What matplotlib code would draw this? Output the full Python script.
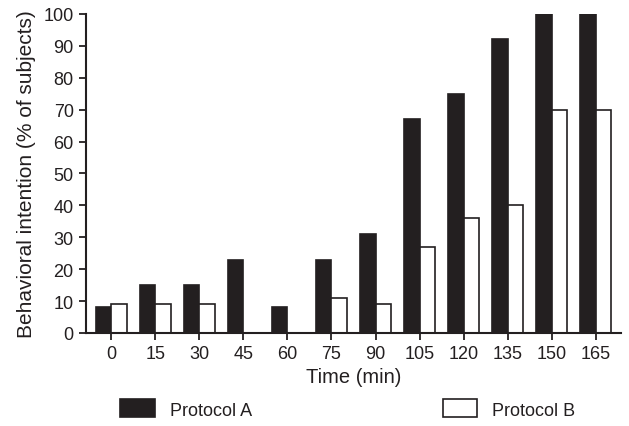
import matplotlib
matplotlib.use("Agg")
from matplotlib import pyplot as plt
import numpy as np

plt.rcParams['font.family'] = ['Liberation Sans', 'DejaVu Sans']

times = [0, 15, 30, 45, 60, 75, 90, 105, 120, 135, 150, 165]
protocol_a = [8, 15, 15, 23, 8, 23, 31, 67, 75, 92, 100, 100]
protocol_b = [9, 9, 9, 0, 0, 11, 9, 27, 36, 40, 70, 70]

dark = "#231f20"
x = np.arange(len(times))
w = 0.35

fig = plt.figure(figsize=(6.29, 4.27), dpi=100)
ax = fig.add_axes([0.137, 0.218, 0.85, 0.747])

ba = ax.bar(x - w / 2, protocol_a, w, color=dark, edgecolor=dark, linewidth=1.2, label="Protocol A")
bb = ax.bar(x + w / 2, protocol_b, w, color="white", edgecolor=dark, linewidth=1.2, label="Protocol B")

ax.set_xlim(-0.57, 11.57)
ax.set_ylim(0, 100)
ax.set_xticks(x)
ax.set_xticklabels([str(t) for t in times])
ax.set_yticks(range(0, 101, 10))
ax.tick_params(direction="out", length=5, width=1.3, labelsize=13, pad=4, color=dark, labelcolor=dark)
for s in ["top", "right"]:
    ax.spines[s].set_visible(False)
for s in ["left", "bottom"]:
    ax.spines[s].set_linewidth(1.5)
    ax.spines[s].set_color(dark)

ax.set_xlabel("Time (min)", fontsize=14.5, color=dark, labelpad=3)
ax.set_ylabel("Behavioral intention (% of subjects)", fontsize=15, color=dark, labelpad=5)

fig.legend(handles=[ba, bb], loc="center", bbox_to_anchor=(0.553, 0.04), ncol=2,
           frameon=False, fontsize=13, handlelength=1.9, handleheight=1.17,
           columnspacing=10.6, handletextpad=0.83, labelcolor=dark)

plt.savefig("out.png", dpi=100)
